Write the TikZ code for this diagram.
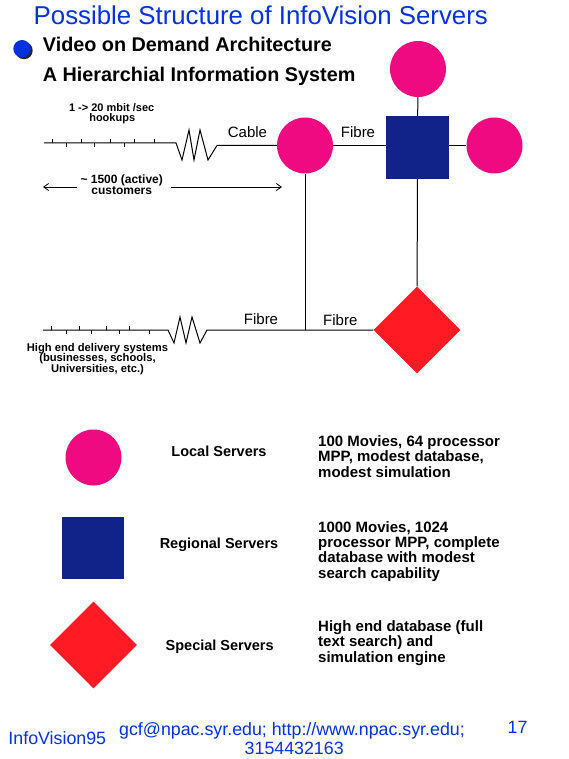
\documentclass[tikz,border=0pt]{standalone}
\usepackage{fontspec}
\setmainfont{Liberation Sans}
\usetikzlibrary{shapes.geometric,arrows.meta}
\definecolor{magsrv}{RGB}{240,10,130}
\definecolor{navysrv}{RGB}{17,34,136}
\definecolor{redsrv}{RGB}{255,26,36}
\definecolor{titleblue}{RGB}{0,51,221}
\tikzset{
  localsrv/.style={circle,fill=magsrv,inner sep=0,minimum size=56pt},
  regionsrv/.style={rectangle,fill=navysrv,inner sep=0,minimum size=63pt},
  specialsrv/.style={diamond,aspect=1,fill=redsrv,inner sep=0,minimum size=87pt},
  wire/.style={draw=black,line width=1pt},
  txt/.style={inner sep=0,text=black},
  headlbl/.style={txt,anchor=base west,font=\fontsize{19.8}{22}\selectfont\bfseries},
  linklbl/.style={txt,anchor=base,font=\fontsize{15}{15}\selectfont},
  smalllbl/.style={txt,anchor=base,font=\fontsize{11}{11}\selectfont\bfseries},
  legendlbl/.style={txt,anchor=base,font=\fontsize{14.5}{15}\selectfont\bfseries},
  desclbl/.style={txt,anchor=north west,align=left,font=\fontsize{15}{15.3}\selectfont\bfseries},
  foot/.style={inner sep=0,text=titleblue,font=\fontsize{17.8}{19}\selectfont},
  tick/.style={draw=black,line width=0.8pt}
}
\begin{document}
\begin{tikzpicture}[x=1pt,y=-1pt]
\useasboundingbox[fill=white] (0,0) rectangle (569,759);

% title and headings
\node[inner sep=0,anchor=base,text=titleblue,font=\fontsize{25.8}{28}\selectfont] (title) at (260.8,24.5) {Possible Structure of InfoVision Servers};
\fill[black!85] (24,50.5) circle (8.7pt);
\node[circle,fill=titleblue,inner sep=0,minimum size=17.4pt] (bullet) at (22,48.7) {};
\node[headlbl] (h1) at (42.7,51.7) {Video on Demand Architecture};
\node[headlbl] (h2) at (42.7,81.7) {A Hierarchial Information System};

% servers in the network
\node[localsrv] (tc) at (418,69) {};
\node[regionsrv] (rg) at (417.5,147.5) {};
\node[localsrv] (rc) at (494.5,145.5) {};
\node[localsrv] (lc) at (305,145.5) {};
\node[specialsrv] (dm) at (417,330) {};

\coordinate (jn) at (305,330);
\coordinate (cab0) at (44,143);
\coordinate (fib0) at (43,330);

% connectors
\draw[wire] (tc) -- (rg);
\draw[wire] (lc.east) -- (lc.east -| rg.west);
\draw[wire] (rg.east |- rc.west) -- (rc.west);
\draw[wire] (rg) -- (dm);
\draw[wire] (lc) -- (jn);
\draw[wire] (cab0) -- (176,143) -- (182,160) -- (189,130) -- (194,160) -- (200,130) -- (208,160) -- (217,145.5) -- (lc.west);
\draw[wire] (fib0) -- (168,330) -- (174,343) -- (180,317) -- (186,343) -- (192,317) -- (200,343) -- (207,330) -- (dm.west);

% ticks on the customer lines
\foreach \x in {52,81,110,134,154} \draw[tick] (\x,143) -- (\x,139);
\foreach \x in {66,94,124} \draw[tick] (\x,143) -- (\x,147);
\foreach \x in {51,79,106,129} \draw[tick] (\x,330) -- (\x,326);
\foreach \x in {66,91,119,149} \draw[tick] (\x,330) -- (\x,334);

% link labels
\node[linklbl] (lcable) at (247.5,137.3) {Cable};
\node[linklbl] (lfib1) at (358,137.3) {Fibre};
\node[linklbl] (lfib2) at (261,324.3) {Fibre};
\node[linklbl] (lfib3) at (340.3,325) {Fibre};

\node[smalllbl] (rate) at (111.7,111.7) {1 -{}> 20 mbit /sec};
\node[smalllbl] (hook) at (112.2,121.7) {hookups};
\node[smalllbl,font=\fontsize{12}{12}\selectfont\bfseries] (cust1) at (121.7,183.3) {\textasciitilde\ 1500 (active)};
\node[smalllbl,font=\fontsize{12}{12}\selectfont\bfseries] (cust2) at (121.7,195) {customers};
\coordinate (arL) at (43,187);
\coordinate (arR) at (282,187);
\draw[line width=0.8pt,-{Straight Barb[length=5pt,width=7pt]}] (77,187) -- (arL);
\draw[line width=0.8pt,-{Straight Barb[length=5pt,width=7pt]}] (171,187) -- (arR);

\node[txt,anchor=north,align=center,font=\fontsize{11.2}{10.8}\selectfont\bfseries] (hiend) at (97.5,342.7) {High end delivery systems\\(businesses, schools,\\Universities, etc.)};

% legend
\node[localsrv] (klc) at (93.5,457.5) {};
\node[regionsrv,minimum size=62pt] (krg) at (93,547.5) {};
\node[specialsrv] (kdm) at (93.5,645) {};

\node[legendlbl] (tlc) at (219,456.7) {Local Servers};
\node[legendlbl] (trg) at (219,548.3) {Regional Servers};
\node[legendlbl] (tdm) at (219.7,650) {Special Servers};

\node[desclbl] (dlc) at (318,435.5) {100 Movies, 64 processor\\MPP, modest database,\\modest simulation};
\node[desclbl] (drg) at (318,521.2) {1000 Movies, 1024\\processor MPP, complete\\database with modest\\search capability};
\node[desclbl] (ddm) at (318,620.5) {High end database (full\\text search) and\\simulation engine};

% footer
\node[foot,anchor=base west] (f1) at (8.3,744.3) {InfoVision95};
\node[foot,anchor=base west] (f2) at (119,735) {gcf@npac.syr.edu; http://www.npac.syr.edu;};
\node[foot,anchor=base] (f3) at (294.2,754) {3154432163};
\node[foot,anchor=base] (f4) at (517.5,733.3) {17};
\end{tikzpicture}
\end{document}
